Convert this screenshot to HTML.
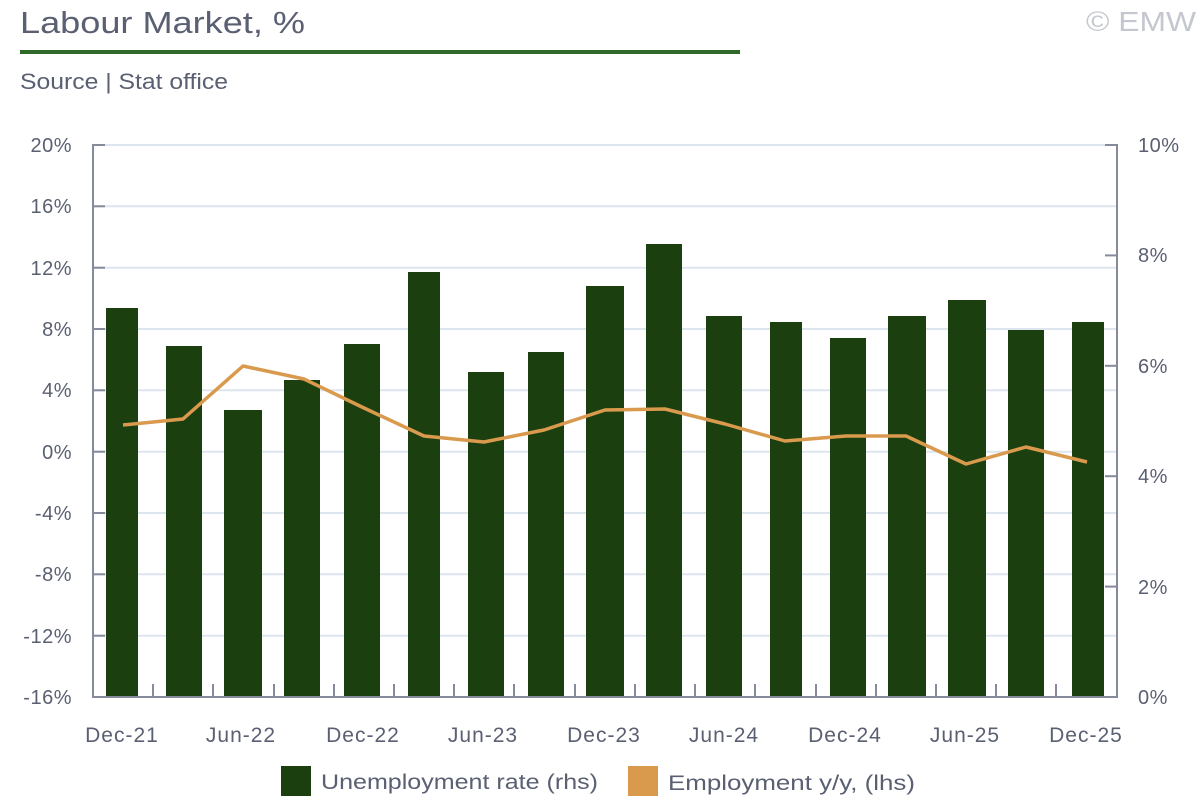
<!DOCTYPE html>
<html><head><meta charset="utf-8"><style>
body{margin:0;background:#fff;}
svg{display:block;font-family:"Liberation Sans",sans-serif;}
</style></head><body>
<svg width="1200" height="800" viewBox="0 0 1200 800">
<text x="20" y="33" font-size="31" fill="#5a6072" textLength="285" lengthAdjust="spacingAndGlyphs">Labour Market, %</text>
<text x="1196" y="31" font-size="28" fill="#c4c7cf" text-anchor="end" textLength="110" lengthAdjust="spacingAndGlyphs">© EMW</text>
<rect x="20" y="50" width="720" height="4" fill="#2f6a2a"/>
<text x="20" y="89" font-size="22" fill="#5a6072" textLength="208" lengthAdjust="spacingAndGlyphs">Source | Stat office</text>
<g stroke="#dde6ef" stroke-width="2">
<line x1="93" x2="1117" y1="145" y2="145"/><line x1="93" x2="1117" y1="206.3" y2="206.3"/>
<line x1="93" x2="1117" y1="267.7" y2="267.7"/><line x1="93" x2="1117" y1="329" y2="329"/>
<line x1="93" x2="1117" y1="390.3" y2="390.3"/><line x1="93" x2="1117" y1="451.7" y2="451.7"/>
<line x1="93" x2="1117" y1="513" y2="513"/><line x1="93" x2="1117" y1="574.3" y2="574.3"/>
<line x1="93" x2="1117" y1="635.7" y2="635.7"/>
</g>
<g fill="#1c3f10">
<rect x="106" y="308" width="32" height="389"/>
<rect x="166" y="346" width="36" height="351"/>
<rect x="224" y="410" width="38" height="287"/>
<rect x="284" y="380" width="36" height="317"/>
<rect x="344" y="344" width="36" height="353"/>
<rect x="408" y="272" width="32" height="425"/>
<rect x="468" y="372" width="36" height="325"/>
<rect x="528" y="352" width="36" height="345"/>
<rect x="586" y="286" width="38" height="411"/>
<rect x="646" y="244" width="36" height="453"/>
<rect x="706" y="316" width="36" height="381"/>
<rect x="770" y="322" width="32" height="375"/>
<rect x="830" y="338" width="36" height="359"/>
<rect x="888" y="316" width="38" height="381"/>
<rect x="948" y="300" width="38" height="397"/>
<rect x="1008" y="330" width="36" height="367"/>
<rect x="1072" y="322" width="32" height="375"/>
</g>
<polyline fill="none" stroke="#d99a4e" stroke-width="3.5" stroke-linejoin="round" points="123,425 183,419 243,366 304,379 364,408 424,436 484,442 544,430 605,410 665,409 725,424 785,441 846,436 906,436 966,464 1026,447 1087,462"/>
<g stroke="#868b9c" stroke-width="2" fill="none">
<polyline points="105,145 93,145 93,697 1117,697 1117,145 1105,145"/>
<line x1="93" x2="105" y1="206.3" y2="206.3"/><line x1="93" x2="105" y1="267.7" y2="267.7"/>
<line x1="93" x2="105" y1="329" y2="329"/><line x1="93" x2="105" y1="390.3" y2="390.3"/>
<line x1="93" x2="105" y1="451.7" y2="451.7"/><line x1="93" x2="105" y1="513" y2="513"/>
<line x1="93" x2="105" y1="574.3" y2="574.3"/><line x1="93" x2="105" y1="635.7" y2="635.7"/>
<line x1="1105" x2="1117" y1="255.4" y2="255.4"/><line x1="1105" x2="1117" y1="365.8" y2="365.8"/>
<line x1="1105" x2="1117" y1="476.2" y2="476.2"/><line x1="1105" x2="1117" y1="586.6" y2="586.6"/>
<line x1="153" x2="153" y1="684" y2="697"/><line x1="213" x2="213" y1="684" y2="697"/>
<line x1="274" x2="274" y1="684" y2="697"/><line x1="334" x2="334" y1="684" y2="697"/>
<line x1="394" x2="394" y1="684" y2="697"/><line x1="454" x2="454" y1="684" y2="697"/>
<line x1="514" x2="514" y1="684" y2="697"/><line x1="575" x2="575" y1="684" y2="697"/>
<line x1="635" x2="635" y1="684" y2="697"/><line x1="695" x2="695" y1="684" y2="697"/>
<line x1="755" x2="755" y1="684" y2="697"/><line x1="816" x2="816" y1="684" y2="697"/>
<line x1="876" x2="876" y1="684" y2="697"/><line x1="936" x2="936" y1="684" y2="697"/>
<line x1="996" x2="996" y1="684" y2="697"/><line x1="1056" x2="1056" y1="684" y2="697"/>
</g>
<g font-size="20" fill="#5a6072" text-anchor="end" letter-spacing="0.5">
<text x="72" y="152">20%</text><text x="72" y="213">16%</text><text x="72" y="275">12%</text>
<text x="72" y="336">8%</text><text x="72" y="397">4%</text><text x="72" y="459">0%</text>
<text x="72" y="520">-4%</text><text x="72" y="581">-8%</text><text x="72" y="643">-12%</text>
<text x="72" y="704">-16%</text>
</g>
<g font-size="20" fill="#5a6072" letter-spacing="0.5">
<text x="1138" y="152">10%</text><text x="1138" y="262">8%</text><text x="1138" y="373">6%</text>
<text x="1138" y="483">4%</text><text x="1138" y="594">2%</text><text x="1138" y="704">0%</text>
</g>
<g font-size="21" fill="#5a6072" text-anchor="middle" letter-spacing="1">
<text x="122" y="742">Dec-21</text><text x="241" y="742">Jun-22</text><text x="363" y="742">Dec-22</text>
<text x="483" y="742">Jun-23</text><text x="604" y="742">Dec-23</text><text x="724" y="742">Jun-24</text>
<text x="845" y="742">Dec-24</text><text x="965" y="742">Jun-25</text><text x="1086" y="742">Dec-25</text>
</g>
<rect x="281" y="766" width="30" height="30" fill="#1c3f10"/>
<text x="321" y="789" font-size="21" fill="#5a6072" textLength="277" lengthAdjust="spacingAndGlyphs">Unemployment rate (rhs)</text>
<rect x="628" y="766" width="30" height="30" fill="#d99a4e"/>
<text x="668" y="790" font-size="21" fill="#5a6072" textLength="247" lengthAdjust="spacingAndGlyphs">Employment y/y, (lhs)</text>
</svg>
</body></html>
